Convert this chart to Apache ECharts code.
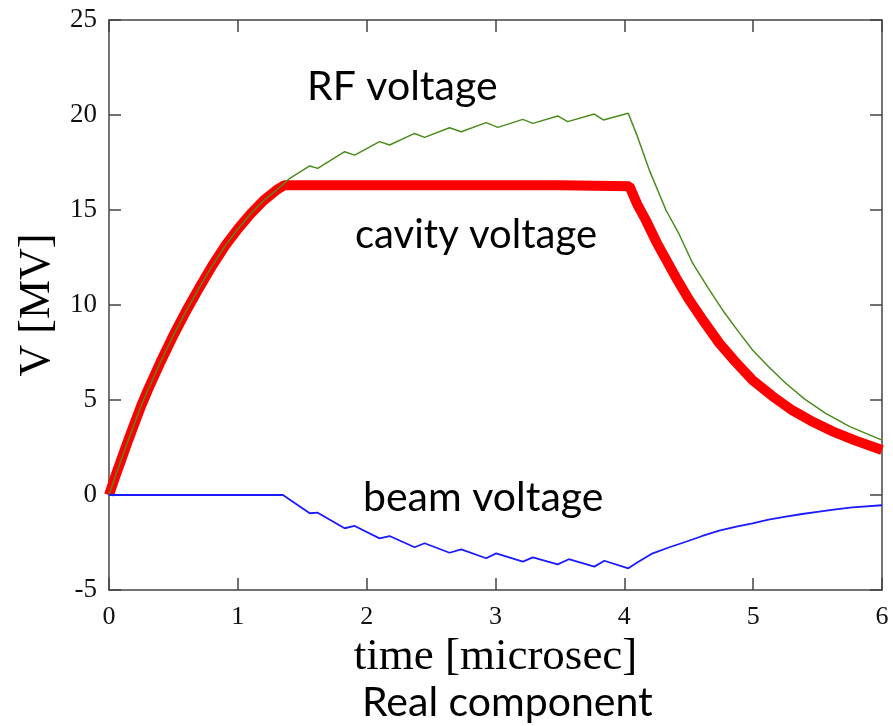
<!DOCTYPE html>
<html>
<head>
<meta charset="utf-8">
<script src="https://cdn.jsdelivr.net/npm/echarts@6/dist/echarts.min.js"></script>
<style>html,body{margin:0;padding:0;background:#fff}#c{width:893px;height:726px}</style>
</head>
<body>
<div id="c"></div>
<script>
// time in microseconds, voltage in MV
var cavityT = [0, 0.05, 0.1, 0.15, 0.2, 0.25, 0.3, 0.4, 0.5, 0.6, 0.7, 0.8, 0.9, 1.0, 1.1, 1.2, 1.3, 1.36,
  1.6, 2.0, 2.5, 3.0, 3.5, 4.04,
  4.1, 4.168, 4.25, 4.323, 4.4, 4.5, 4.6, 4.736, 4.85, 4.995, 5.15, 5.305, 5.45, 5.615, 5.8, 6.0];
var cavityV = [0, 1.0, 1.95, 2.9, 3.8, 4.7, 5.5, 7.0, 8.4, 9.7, 10.9, 12.05, 13.1, 14.0, 14.8, 15.5, 16.05, 16.3,
  16.3, 16.3, 16.3, 16.3, 16.3, 16.25,
  15.3, 14.45, 13.3, 12.4, 11.45, 10.3, 9.3, 8.0, 7.1, 6.05, 5.2, 4.45, 3.9, 3.35, 2.85, 2.37];

var rfT = [0, 0.05, 0.1, 0.15, 0.2, 0.25, 0.3, 0.4, 0.5, 0.6, 0.7, 0.8, 0.9, 1.0, 1.1, 1.2, 1.3, 1.36,
  1.403, 1.558, 1.62, 1.829, 1.907, 2.10, 2.178, 2.372, 2.45, 2.643, 2.734, 2.928, 3.018, 3.212, 3.29,
  3.483, 3.56, 3.767, 3.837, 4.03,
  4.1, 4.194, 4.323, 4.42, 4.53, 4.65, 4.762, 4.88, 4.995, 5.12, 5.253, 5.4, 5.563, 5.75, 6.0];
var rfV = [0, 1.0, 1.95, 2.9, 3.8, 4.7, 5.5, 7.0, 8.4, 9.7, 10.9, 12.05, 13.1, 14.0, 14.8, 15.5, 16.05, 16.4,
  16.67, 17.32, 17.19, 18.07, 17.89, 18.6, 18.42, 19.03, 18.82, 19.33, 19.12, 19.6, 19.35, 19.77, 19.56,
  19.95, 19.65, 20.05, 19.74, 20.09,
  18.9, 17.1, 15.0, 13.8, 12.2, 10.9, 9.74, 8.65, 7.63, 6.75, 5.88, 5.05, 4.3, 3.6, 2.89];

var beamT = [0, 1.35, 1.558, 1.62, 1.829, 1.907, 2.10, 2.178, 2.372, 2.45, 2.643, 2.734, 2.928, 3.005,
  3.212, 3.29, 3.483, 3.569, 3.767, 3.845, 4.031,
  4.1, 4.22, 4.35, 4.478, 4.6, 4.736, 4.87, 4.995, 5.12, 5.253, 5.38, 5.512, 5.64, 5.77, 6.0];
var beamV = [0, 0, -0.96, -0.93, -1.75, -1.63, -2.28, -2.16, -2.75, -2.54, -3.04, -2.86, -3.33, -3.07,
  -3.51, -3.28, -3.65, -3.38, -3.77, -3.46, -3.86,
  -3.55, -3.07, -2.75, -2.46, -2.17, -1.88, -1.67, -1.49, -1.3, -1.14, -1.0, -0.88, -0.76, -0.65, -0.54];

var xTicks = [0, 1, 2, 3, 4, 5, 6];
var yTicks = [-5, 0, 5, 10, 15, 20, 25];

function zip(t, v) { return t.map(function (x, i) { return [x, v[i]]; }); }

var serif = '"Liberation Serif", "DejaVu Serif", serif';
var sans = 'Lato, "Open Sans", sans-serif';
var frame = { show: true, onZero: false, lineStyle: { color: '#444', width: 1.5 } };
var tick = { show: true, inside: true, length: 12, lineStyle: { color: '#444', width: 1.5 } };

var chart = echarts.init(document.getElementById('c'), null, { renderer: 'canvas' });
chart.setOption({
  animation: false,
  backgroundColor: '#fff',
  grid: { left: 109, right: 11, top: 20, bottom: 136, containLabel: false },
  xAxis: [{
    type: 'value', position: 'bottom',
    min: xTicks[0], max: xTicks[xTicks.length - 1], interval: 1,
    axisLine: frame, axisTick: tick, splitLine: { show: false },
    axisLabel: { color: '#111', fontFamily: serif, fontSize: 26, margin: 14 },
    name: 'time [microsec]', nameLocation: 'middle', nameGap: 42,
    nameTextStyle: { color: '#000', fontFamily: serif, fontSize: 45 }
  }, {
    type: 'value', position: 'top',
    min: xTicks[0], max: xTicks[xTicks.length - 1], interval: 1,
    axisLine: frame, axisTick: tick, splitLine: { show: false }, axisLabel: { show: false }
  }],
  yAxis: [{
    type: 'value', position: 'left',
    min: yTicks[0], max: yTicks[yTicks.length - 1], interval: 5,
    axisLine: frame, axisTick: tick, splitLine: { show: false },
    axisLabel: { color: '#111', fontFamily: serif, fontSize: 27, margin: 12 },
    name: 'V [MV]', nameLocation: 'middle', nameGap: 50, nameRotate: 90,
    nameTextStyle: { color: '#000', fontFamily: serif, fontSize: 44 }
  }, {
    type: 'value', position: 'right',
    min: yTicks[0], max: yTicks[yTicks.length - 1], interval: 5,
    axisLine: frame, axisTick: tick, splitLine: { show: false }, axisLabel: { show: false }
  }],
  series: [{
    name: 'cavity voltage', type: 'line', data: zip(cavityT, cavityV),
    showSymbol: false, lineStyle: { color: '#ff0000', width: 10 }, z: 2
  }, {
    name: 'RF voltage', type: 'line', data: zip(rfT, rfV),
    showSymbol: false, lineStyle: { color: '#4a8c1c', width: 1.5 }, z: 3
  }, {
    name: 'beam voltage', type: 'line', data: zip(beamT, beamV),
    showSymbol: false, lineStyle: { color: '#1a1aff', width: 1.8 }, z: 3
  }],
  graphic: [
    { type: 'text', left: 307, top: 66, style: { text: 'RF voltage', font: '41px ' + sans, fill: '#000' } },
    { type: 'text', left: 355, top: 215, style: { text: 'cavity voltage', font: '40px ' + sans, fill: '#000' } },
    { type: 'text', left: 363, top: 477, style: { text: 'beam voltage', font: '41px ' + sans, fill: '#000' } },
    { type: 'text', left: 362, top: 682, style: { text: 'Real component', font: '41px ' + sans, fill: '#000' } }
  ]
});
</script>
</body>
</html>
